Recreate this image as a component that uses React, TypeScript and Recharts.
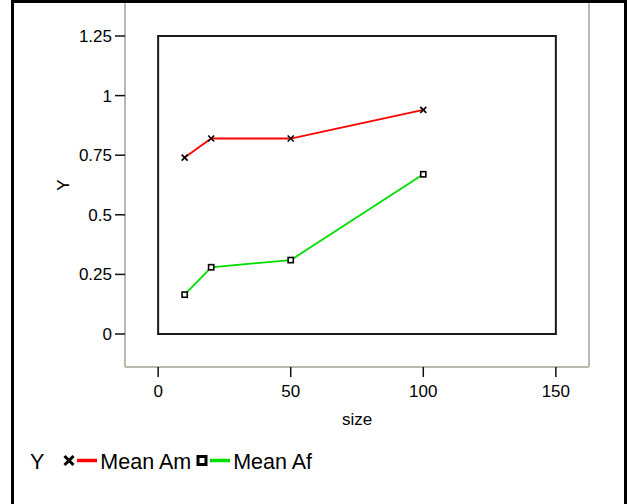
import React from 'react';
import { LineChart, Line, XAxis, YAxis, ReferenceArea, Legend } from 'recharts';

const FONT = '"Liberation Sans", Arial, Helvetica, sans-serif';

const sizes = [10, 20, 50, 100];
const meanAm = [0.74, 0.82, 0.82, 0.94];
const meanAf = [0.165, 0.28, 0.31, 0.67];
const xTicks = [0, 50, 100, 150];
const yTicks = [0, 0.25, 0.5, 0.75, 1, 1.25];
const yTickLabels = ['0', '0.25', '0.5', '0.75', '1', '1.25'];

const seriesNames = ['Mean Am', 'Mean Af'];
const seriesColors = ['#ff0000', '#00dd00'];
const seriesMarkers = ['x', 'square'];
const legendTitle = 'Y';

const rows = sizes.map((s, i) => ({ size: s, am: meanAm[i], af: meanAf[i] }));

const GRAY = '#bdb9ae';

function XDot(props: any) {
  const { cx, cy, index } = props;
  if (cx == null || cy == null) return <g key={index} />;
  const r = 3;
  return (
    <g key={`x-${index}`}>
      <line x1={cx - r} y1={cy - r} x2={cx + r} y2={cy + r} stroke="#000" strokeWidth={1.6} />
      <line x1={cx - r} y1={cy + r} x2={cx + r} y2={cy - r} stroke="#000" strokeWidth={1.6} />
    </g>
  );
}

function SquareDot(props: any) {
  const { cx, cy, index } = props;
  if (cx == null || cy == null) return <g key={index} />;
  const r = 2.6;
  return (
    <rect key={`s-${index}`} x={cx - r} y={cy - r} width={2 * r} height={2 * r} fill="#fff" stroke="#000" strokeWidth={1.6} />
  );
}

function LegendIcon({ marker, color }: { marker: string; color: string }) {
  return (
    <svg width={35} height={22} style={{ display: 'block' }}>
      {marker === 'x' ? (
        <g>
          <line x1={1.5} y1={4} x2={10.5} y2={13} stroke="#000" strokeWidth={3} />
          <line x1={1.5} y1={13} x2={10.5} y2={4} stroke="#000" strokeWidth={3} />
        </g>
      ) : (
        <rect x={2} y={4.5} width={8} height={8} fill="#fff" stroke="#000" strokeWidth={3} />
      )}
      <line x1={14} y1={8.5} x2={34} y2={8.5} stroke={color} strokeWidth={3.5} />
    </svg>
  );
}

function LegendContent() {
  return (
    <div style={{ display: 'flex', alignItems: 'center', fontFamily: FONT, fontSize: 21.5, color: '#000', whiteSpace: 'nowrap' }}>
      <span style={{ marginRight: 19 }}>{legendTitle}</span>
      {seriesNames.map((n, i) => (
        <div key={n} style={{ display: 'flex', alignItems: 'center', marginRight: 5 }}>
          <LegendIcon marker={seriesMarkers[i]} color={seriesColors[i]} />
          <span style={{ marginLeft: 2 }}>{n}</span>
        </div>
      ))}
    </div>
  );
}

export default function App() {
  const tickStyle = { fontFamily: FONT, fontSize: 17, fill: '#000' };
  return (
    <div style={{ position: 'absolute', left: 0, top: 0, width: 629, height: 504, overflow: 'hidden', background: '#fff', fontFamily: FONT }}>
      <LineChart width={629} height={504} data={rows} margin={{ top: 3, right: 39, bottom: 0, left: 0 }}>
        <XAxis
          dataKey="size"
          type="number"
          domain={[-12.5, 162.5]}
          allowDataOverflow
          ticks={xTicks}
          height={137}
          tickSize={10}
          tickMargin={8}
          tick={tickStyle}
          tickLine={{ stroke: '#111', strokeWidth: 1.5 }}
          axisLine={{ stroke: GRAY, strokeWidth: 2 }}
          label={{ value: 'size', position: 'insideTop', offset: 46, style: { fontFamily: FONT, fontSize: 17, fill: '#000' } }}
        />
        <YAxis
          type="number"
          domain={[-0.1384, 1.3884]}
          allowDataOverflow
          ticks={yTicks}
          tickFormatter={(v: number) => yTickLabels[yTicks.indexOf(v)] ?? String(v)}
          width={125}
          tickSize={10}
          tickMargin={3}
          tick={tickStyle}
          tickLine={{ stroke: '#111', strokeWidth: 1.5 }}
          axisLine={{ stroke: GRAY, strokeWidth: 2 }}
          label={{ value: 'Y', angle: -90, position: 'center', style: { fontFamily: FONT, fontSize: 17, fill: '#000' } }}
        />
        <YAxis
          yAxisId="r"
          orientation="right"
          type="number"
          domain={[-0.1384, 1.3884]}
          allowDataOverflow
          width={1}
          tick={false}
          tickLine={false}
          axisLine={{ stroke: GRAY, strokeWidth: 2 }}
        />
        <ReferenceArea x1={0} x2={150} y1={0} y2={1.25} fill="none" fillOpacity={0} stroke="#1a1a1a" strokeWidth={2} />
        <Line
          dataKey="am"
          name={seriesNames[0]}
          stroke={seriesColors[0]}
          strokeWidth={1.8}
          isAnimationActive={false}
          dot={(p: any) => <XDot key={`am-${p.index}`} {...p} />}
          activeDot={false}
        />
        <Line
          dataKey="af"
          name={seriesNames[1]}
          stroke={seriesColors[1]}
          strokeWidth={1.8}
          isAnimationActive={false}
          dot={(p: any) => <SquareDot key={`af-${p.index}`} {...p} />}
          activeDot={false}
        />
        <Legend
          layout="horizontal"
          verticalAlign="middle"
          align="center"
          content={() => <LegendContent />}
          wrapperStyle={{ position: 'absolute', left: 30, top: 450, width: 400, height: 24, margin: 0, padding: 0, lineHeight: 'normal' }}
        />
      </LineChart>
      <div style={{ position: 'absolute', left: 11, top: 0, width: 616, height: 540, border: '3px solid #000', boxSizing: 'border-box', pointerEvents: 'none' }} />
    </div>
  );
}
